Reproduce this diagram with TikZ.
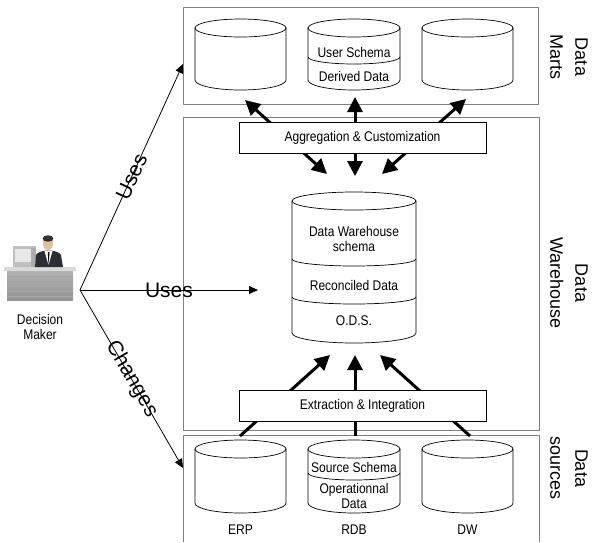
\documentclass[tikz,border=0pt]{standalone}
\usepackage{fontspec}
\setmainfont{Liberation Sans}
\newfontfamily\narrowfont{Liberation Sans}[FakeStretch=0.86]
\usepackage{tikz}
\usetikzlibrary{arrows.meta,positioning}
\usepackage{xcolor}
\definecolor{boxgray}{RGB}{128,128,128}
\definecolor{suit}{RGB}{45,45,52}
\definecolor{skin}{RGB}{226,192,160}
\tikzstyle{layer} = [draw=boxgray, line width=0.8pt]
\tikzstyle{cyl} = [draw=black, line width=0.7pt]
\tikzstyle{flow} = [line width=3pt, -{Triangle[length=15pt,width=15pt]}]
\tikzstyle{twoway} = [line width=3pt, {Triangle[length=15pt,width=15pt]}-{Triangle[length=15pt,width=15pt]}]
\tikzstyle{proc} = [draw, fill=white, line width=0.8pt, minimum width=247pt, minimum height=31pt, font=\narrowfont\fontsize{14}{16}\selectfont]
\tikzstyle{use} = [line width=0.8pt, -{Triangle[length=9pt,width=8pt]}]
\tikzstyle{small} = [font=\narrowfont\fontsize{14}{15}\selectfont, align=center, inner sep=0pt]
\tikzstyle{side} = [rotate=-90, align=center, font=\fontsize{18}{25}\selectfont]
\tikzstyle{verb} = [font=\fontsize{21}{21}\selectfont, inner sep=0pt]

% cylinder: centre x, top y, bottom y, radius
\newcommand{\dbcyl}[4]{%
  \draw[cyl] (#1-#4,#2) -- (#1-#4,#3) arc (180:0:#4 and 10) -- (#1+#4,#2);
  \draw[cyl] (#1,#2) ellipse (#4 and 9);}
\newcommand{\dbsplit}[3]{% centre x, y, radius
  \draw[cyl] (#1-#3,#2) arc (180:0:#3 and 7);}

\begin{document}
\begin{tikzpicture}[x=1pt, y=-1pt]
\useasboundingbox (0,0) rectangle (594,542);

% Layers
\draw[layer] (183,7) rectangle (538,104);
\draw[layer] (183,117) rectangle (539,430);
\draw[layer] (183,542) -- (183,435) -- (539,435) -- (539,542);

% Data marts
\dbcyl{240.5}{28}{80}{45.5}
\dbcyl{354}{28}{80}{46}
\dbcyl{467.5}{28}{80}{45.5}
\dbsplit{354}{57}{46}
\node[small] (user) at (354,52) {User Schema};
\node[small] (derived) at (354,76) {Derived Data};

% Data warehouse
\dbcyl{354}{201}{333}{62}
\dbsplit{354}{259}{62}
\dbsplit{354}{297}{62}
\node[small] (dwschema) at (354,239) {Data Warehouse\\schema};
\node[small] (reconciled) at (354,285) {Reconciled Data};
\node[small] (ods) at (354,321) {O.D.S.};

% Data sources
\dbcyl{240.5}{449}{503}{45.5}
\dbcyl{354}{449}{503}{46}
\dbcyl{467.5}{449}{503}{45.5}
\dbsplit{354}{473}{46}
\node[small] (srcschema) at (354,467) {Source Schema};
\node[small] (operational) at (354,496) {Operationnal\\Data};
\node[small] (erp) at (240.5,530) {ERP};
\node[small] (rdb) at (354,530) {RDB};
\node[small] (dw) at (467.5,530) {DW};

% Flows
\coordinate (m1) at (245,100);
\coordinate (m2) at (355,97);
\coordinate (m3) at (466,99);
\coordinate (w1) at (327,174);
\coordinate (w2) at (355,176);
\coordinate (w3) at (382,174);
\coordinate (w4) at (330,355);
\coordinate (w5) at (355,355);
\coordinate (w6) at (380,355);
\coordinate (s1) at (240,436);
\coordinate (s2) at (355,436);
\coordinate (s3) at (470,436);
\draw[twoway] (w1) -- (m1);
\draw[twoway] (w2) -- (m2);
\draw[twoway] (w3) -- (m3);
\draw[flow] (s1) -- (w4);
\draw[flow] (s2) -- (w5);
\draw[flow] (s3) -- (w6);

\node[proc] (agg) at (362.5,137.5) {Aggregation \& Customization};
\node[proc] (extr) at (362.5,406) {Extraction \& Integration};

% Decision maker
\shade[top color=gray!60, bottom color=gray!85] (7,271) rectangle (73,300);
\foreach \y in {276,281,...,296} \draw[gray!70, line width=0.3pt] (7,\y) -- (73,\y);
\fill[gray!30] (4,267) rectangle (76,271);
\fill[gray!50] (13,246) rectangle (36,267);
\fill[gray!18] (15,249) rectangle (31,262);
\fill[gray!65] (31,248) rectangle (36,267);
\fill[suit] (35,267) -- (36,255) .. controls (39,249) and (58,249) .. (61,255) -- (63,267) -- cycle;
\fill[white] (44.5,251) -- (48.5,265) -- (52.5,251) -- cycle;
\fill[black] (47.8,252) -- (48.5,265) -- (49.6,252) -- cycle;
\fill[skin] (48,243) ellipse (5.2 and 7);
\fill[black!80] (48,238.5) ellipse (5.4 and 3.2);
\node[small] (dmlabel) at (40,327) {Decision\\Maker};

\coordinate (dm) at (80,290);
\coordinate (marts in) at (183,64);
\coordinate (wh in) at (258,290);
\coordinate (src in) at (183,468);
\draw[use] (dm) -- node[verb, sloped] {Uses} (marts in);
\draw[use] (dm) -- node[verb] {Uses} (wh in);
\draw[use] (dm) -- node[verb, sloped] {Changes} (src in);

% Labels
\node[side] (martslabel) at (569,57) {Data\\Marts};
\node[side] (whlabel) at (569,283) {Data\\Warehouse};
\node[side] (srclabel) at (569,468) {Data\\sources};
\end{tikzpicture}
\end{document}
